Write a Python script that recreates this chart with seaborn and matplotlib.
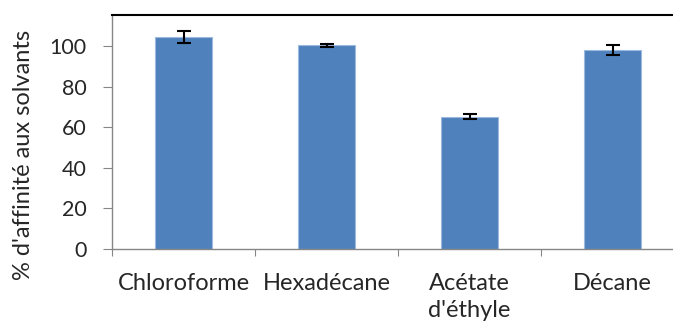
import matplotlib
matplotlib.use("Agg")
import matplotlib.pyplot as plt
import seaborn as sns
import pandas as pd

solvants = ["Chloroforme", "Hexadécane", "Acétate\nd'éthyle", "Décane"]
affinite = [104.4, 100.3, 65.2, 98.0]
erreur = [2.8, 0.9, 1.2, 2.4]

df = pd.DataFrame({"solvant": solvants, "affinite": affinite})

sns.set_style("white")
plt.rcParams["font.family"] = ["Lato", "DejaVu Sans"]

fig = plt.figure(figsize=(6.73, 3.25), dpi=100)
ax = fig.add_axes([112 / 673, 1 - 249 / 325, 572 / 673, 234 / 325])

sns.barplot(data=df, x="solvant", y="affinite", color="#4F81BD", width=0.4,
            edgecolor="#9DB9DD", linewidth=0.8, saturation=1, ax=ax)
ax.errorbar(range(len(solvants)), affinite, yerr=erreur, fmt="none",
            ecolor="black", elinewidth=1.5, capsize=5, capthick=1.5)

ax.set_ylim(0, 115.3)
ax.set_xlim(-0.5, 3.5)
ax.set_yticks([0, 20, 40, 60, 80, 100])
ax.set_xlabel("")
ax.set_ylabel("")
# titre de l'axe y place a la main (centre sur y ~ 154 px)
ax.text(-0.154, 0.40, "% d'affinité aux solvants", transform=ax.transAxes,
        rotation=90, ha="center", va="center", fontsize=17)

# ticks de categorie aux limites, comme Excel
ax.set_xticks([-0.5, 0.5, 1.5, 2.5, 3.5])
ax.set_xticklabels([])
ax.set_xticks([0, 1, 2, 3], minor=True)
ax.set_xticklabels(solvants, minor=True, fontsize=17, linespacing=1.4)
ax.tick_params(axis="x", which="major", length=5, color="#868686", direction="out", bottom=True)
ax.tick_params(axis="x", which="minor", length=0, pad=17)
ax.tick_params(axis="y", length=6.5, color="#868686", direction="out", left=True,
               labelsize=15.5, pad=12)

for s in ["left", "bottom"]:
    ax.spines[s].set_color("#868686")
    ax.spines[s].set_linewidth(1)
ax.spines["top"].set_color("black")
ax.spines["top"].set_linewidth(1.5)
ax.spines["right"].set_visible(False)

fig.savefig("out.png", dpi=100)
